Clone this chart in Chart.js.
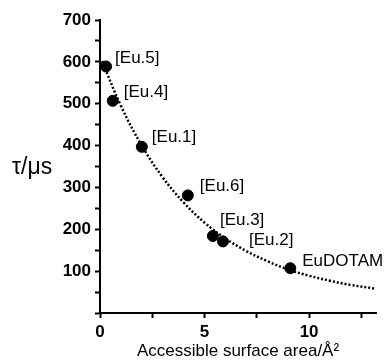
<!DOCTYPE html>
<html>
<head>
<meta charset="utf-8">
<script src="https://cdn.jsdelivr.net/npm/chart.js@4/dist/chart.umd.min.js"></script>
<style>
  html, body { margin: 0; padding: 0; background: #fff; }
  #wrap { width: 387px; height: 362px; position: relative; }
</style>
</head>
<body>
<div id="wrap"><canvas id="chart"></canvas></div>
<script>
/* ── Data ─────────────────────────────────────────────────── */
const complexNames = ['[Eu.5]', '[Eu.4]', '[Eu.1]', '[Eu.6]', '[Eu.3]', '[Eu.2]', 'EuDOTAM'];
const surfaceArea  = [0.29, 0.61, 2.0, 4.2, 5.4, 5.88, 9.1];
const lifetime     = [589, 507, 397, 281, 184, 171, 107];

/* dotted fit curve, sampled along the picture */
const fitX = [0.1, 1, 2, 3, 4, 5, 6, 7, 8, 9, 10, 11, 12, 13.2];
const fitY = [602, 495, 400, 324, 264, 216, 178, 148, 124, 104, 89, 77, 67, 58];

/* label offsets from each marker (px) */
const labelDx = [9, 11, 10, 12, 7, 26, 12];
const labelDy = [-8, -8, -10, -9, -16, -1, -7];

const xMajor = [0, 5, 10];
const yMajor = [100, 200, 300, 400, 500, 600, 700];

/* ── Point labels + horizontal y title ────────────────────── */
const annotate = {
  id: 'annotate',
  afterDatasetsDraw(chart) {
    const { ctx, chartArea } = chart;
    const meta = chart.getDatasetMeta(1);
    ctx.save();
    ctx.fillStyle = '#000';
    ctx.font = '17px "Liberation Sans", Arial, sans-serif';
    ctx.textBaseline = 'middle';
    ctx.textAlign = 'left';
    meta.data.forEach((pt, i) => {
      ctx.fillText(complexNames[i], pt.x + labelDx[i], pt.y + labelDy[i]);
    });
    ctx.font = '23px "Liberation Sans", Arial, sans-serif';
    ctx.fillText('τ/μs', 12, chartArea.top + 148);
    ctx.restore();
  }
};

const axisFont = { family: '"Liberation Sans", Arial, sans-serif', size: 17, weight: 'bold' };

new Chart(document.getElementById('chart'), {
  type: 'scatter',
  data: {
    datasets: [
      {
        type: 'line',
        data: fitX.map((x, i) => ({ x, y: fitY[i] })),
        borderColor: '#000',
        borderWidth: 2.5,
        borderDash: [2, 2],
        pointRadius: 0,
        tension: 0.4,
        fill: false
      },
      {
        data: surfaceArea.map((x, i) => ({ x, y: lifetime[i] })),
        backgroundColor: '#000',
        borderColor: '#000',
        pointRadius: 5.5,
        pointHoverRadius: 5.5
      }
    ]
  },
  options: {
    responsive: true,
    maintainAspectRatio: false,
    animation: false,
    layout: { padding: { top: 20, right: 11, left: 0, bottom: 0 } },
    plugins: { legend: { display: false }, tooltip: { enabled: false } },
    scales: {
      x: {
        type: 'linear',
        min: 0,
        max: 13.2,
        afterFit(s) { s.height = 49; },
        border: { display: true, color: '#000', width: 2 },
        grid: { drawOnChartArea: false, drawTicks: true, tickLength: 5, tickColor: '#000', tickWidth: 2 },
        ticks: {
          stepSize: 2.5,
          color: '#000',
          font: axisFont,
          padding: 4,
          maxRotation: 0,
          autoSkip: false,
          callback: v => xMajor.includes(v) ? String(v) : ''
        },
        afterBuildTicks(s) {
          s.ticks = [0, 2.5, 5, 7.5, 10, 12.5].map(v => ({ value: v }));
        },
        title: {
          display: true,
          text: 'Accessible surface area/Å²',
          color: '#000',
          font: { family: '"Liberation Sans", Arial, sans-serif', size: 17 },
          padding: { top: 0, bottom: 0 }
        }
      },
      y: {
        min: 0,
        max: 700,
        afterFit(s) { s.width = 100; },
        border: { display: true, color: '#000', width: 2 },
        grid: { drawOnChartArea: false, drawTicks: true, tickLength: 5, tickColor: '#000', tickWidth: 2 },
        ticks: {
          stepSize: 50,
          color: '#000',
          font: axisFont,
          padding: 4,
          autoSkip: false,
          callback: v => yMajor.includes(v) ? String(v) : ''
        }
      }
    }
  },
  plugins: [annotate]
});
</script>
</body>
</html>
